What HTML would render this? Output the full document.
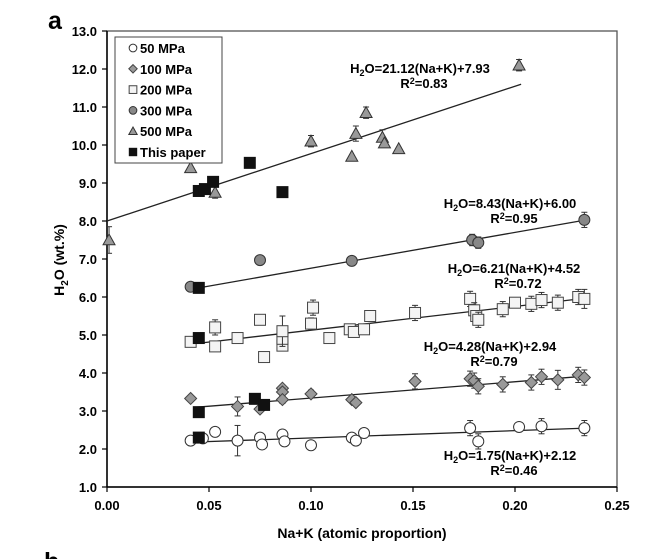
<!DOCTYPE html>
<html><head><meta charset="utf-8"><style>
body{margin:0;background:#fff;}
svg{display:block;font-family:"Liberation Sans",Arial,sans-serif;font-weight:bold;}
</style></head><body>
<svg id="chart" width="648" height="559">
<text x="48" y="29" font-size="25">a</text>
<text x="44" y="570" font-size="25">b</text>
<g id="axes"></g>
<g id="marks"></g>
</svg>
<script>
const xTicks=[0,0.05,0.10,0.15,0.20,0.25];
const xTickLabels=["0.00","0.05","0.10","0.15","0.20","0.25"];
const yTicks=[1,2,3,4,5,6,7,8,9,10,11,12,13];
const yTickLabels=["1.0","2.0","3.0","4.0","5.0","6.0","7.0","8.0","9.0","10.0","11.0","12.0","13.0"];
const p500X=[0.001,0.041,0.053,0.100,0.120,0.122,0.127,0.135,0.136,0.143,0.202];
const p500Y=[7.5,9.4,8.75,10.1,9.7,10.3,10.85,10.2,10.05,9.9,12.1];
const p500E=[0.35,0,0.15,0.15,0,0.2,0.15,0.2,0,0,0.15];
const p300X=[0.041,0.075,0.120,0.179,0.182,0.234];
const p300Y=[6.27,6.97,6.95,7.5,7.43,8.03];
const p300E=[0,0,0,0.15,0.15,0.2];
const p200X=[0.041,0.053,0.053,0.064,0.075,0.077,0.086,0.086,0.086,0.100,0.101,0.109,0.119,0.121,0.126,0.129,0.151,0.178,0.180,0.181,0.182,0.194,0.200,0.208,0.213,0.221,0.231,0.234];
const p200Y=[4.82,4.7,5.2,4.92,5.4,4.42,4.72,4.9,5.1,5.3,5.72,4.92,5.15,5.08,5.15,5.5,5.58,5.95,5.65,5.5,5.4,5.68,5.85,5.82,5.92,5.85,6.0,5.95];
const p200E=[0,0,0.2,0.1,0,0,0,0,0.4,0.15,0.2,0.1,0,0,0,0,0.2,0.2,0.2,0,0.2,0.2,0,0.2,0.2,0.2,0.2,0.25];
const p100X=[0.041,0.064,0.075,0.086,0.086,0.086,0.100,0.120,0.122,0.151,0.178,0.180,0.182,0.194,0.208,0.213,0.221,0.231,0.234];
const p100Y=[3.33,3.12,3.05,3.6,3.5,3.3,3.45,3.3,3.22,3.78,3.85,3.8,3.65,3.7,3.75,3.9,3.82,3.95,3.88];
const p100E=[0,0.25,0,0,0.1,0.1,0.1,0,0,0.2,0.2,0.2,0.2,0.2,0.2,0.2,0.25,0.2,0.2];
const p50X=[0.041,0.047,0.053,0.064,0.075,0.076,0.086,0.087,0.100,0.120,0.122,0.126,0.178,0.182,0.202,0.213,0.234];
const p50Y=[2.22,2.28,2.45,2.22,2.3,2.12,2.38,2.2,2.1,2.3,2.22,2.42,2.55,2.2,2.58,2.6,2.55];
const p50E=[0,0,0.1,0.4,0,0,0,0,0.1,0,0,0,0.2,0.2,0,0.2,0.2];
const pThisX=[0.045,0.048,0.052,0.070,0.086,0.045,0.045,0.045,0.045,0.0725,0.077];
const pThisY=[8.79,8.84,9.03,9.53,8.76,6.24,4.92,2.97,2.3,3.32,3.16];
const fitNames=["fit-500","fit-300","fit-200","fit-100","fit-50"];
const fitX0=[0.0,0.045,0.046,0.044,0.042];
const fitY0=[8.0,6.24,4.79,3.1,2.18];
const fitX1=[0.203,0.235,0.235,0.235,0.235];
const fitY1=[11.6,8.03,5.97,3.92,2.55];

const NS="http://www.w3.org/2000/svg";
const L=107,R=617,T=31,B=487;
const sx=v=>L+(v-0)/(0.25)*(R-L);
const sy=v=>B-(v-1)/(12)*(B-T);
function mk(tag,attrs,parent){const e=document.createElementNS(NS,tag);for(const k in attrs)e.setAttribute(k,attrs[k]);parent.appendChild(e);return e;}
const axes=document.getElementById('axes'),marks=document.getElementById('marks');
let fr=mk('rect',{x:L,y:T,width:R-L,height:B-T,fill:'none',stroke:'#555','stroke-width':1.3},axes);


let xa=mk('line',{x1:L,y1:B,x2:R,y2:B,stroke:'#000','stroke-width':1.5},axes);


let ya=mk('line',{x1:L,y1:T,x2:L,y2:B,stroke:'#000','stroke-width':1.5},axes);


xTicks.forEach((v,i)=>{
 mk('line',{x1:sx(v),y1:B,x2:sx(v),y2:B+5,stroke:'#000','stroke-width':1.2},axes);
 const t=mk('text',{x:sx(v),y:B+23,'font-size':13,'text-anchor':'middle'},axes);t.textContent=xTickLabels[i];
 
 
});
yTicks.forEach((v,i)=>{
 mk('line',{x1:L-5,y1:sy(v),x2:L,y2:sy(v),stroke:'#000','stroke-width':1.2},axes);
 const t=mk('text',{x:L-10,y:sy(v)+5,'font-size':13,'text-anchor':'end'},axes);t.textContent=yTickLabels[i];
 
 
});
let xt=mk('text',{x:362,y:538,'font-size':14,'text-anchor':'middle'},axes);xt.textContent='Na+K (atomic proportion)';


let yt=mk('text',{x:0,y:0,'font-size':14,'text-anchor':'middle',transform:'translate(64,260) rotate(-90)'},axes);
yt.innerHTML='H<tspan font-size="10" dy="4">2</tspan><tspan dy="-4">O (wt.%)</tspan>';


fitNames.forEach((n,i)=>{
 const l=mk('line',{x1:sx(fitX0[i]),y1:sy(fitY0[i]),x2:sx(fitX1[i]),y2:sy(fitY1[i]),stroke:'#222','stroke-width':1.3},marks);
 
 
});
function err(x,y,e){if(!e)return;const X=sx(x);mk('line',{x1:X,y1:sy(y+e),x2:X,y2:sy(y-e),stroke:'#333','stroke-width':1},marks);
 [y+e,y-e].forEach(v=>mk('line',{x1:X-3,y1:sy(v),x2:X+3,y2:sy(v),stroke:'#333','stroke-width':1},marks));}
function marker(type,X,Y,parent,s){
 s=s||1;let e;
 if(type==='c50')e=mk('circle',{cx:X,cy:Y,r:5.5*s,fill:'#fff',stroke:'#333','stroke-width':1},parent);
 if(type==='c300')e=mk('circle',{cx:X,cy:Y,r:5.5*s,fill:'#888',stroke:'#333','stroke-width':1},parent);
 if(type==='sq')e=mk('rect',{x:X-5.5*s,y:Y-5.5*s,width:11*s,height:11*s,fill:'#f4f4f4',stroke:'#444','stroke-width':1},parent);
 if(type==='dia'){const d=6*s;e=mk('polygon',{points:`${X},${Y-d} ${X+d},${Y} ${X},${Y+d} ${X-d},${Y}`,fill:'#999',stroke:'#444','stroke-width':1},parent);}
 if(type==='tri'){const d=6*s;e=mk('polygon',{points:`${X},${Y-d} ${X+d},${Y+d*0.8} ${X-d},${Y+d*0.8}`,fill:'#999',stroke:'#333','stroke-width':1},parent);}
 if(type==='bk')e=mk('rect',{x:X-6*s,y:Y-6*s,width:12*s,height:12*s,fill:'#111'},parent);
 return e;}
function series(xs,ys,es,type,name){xs.forEach((x,i)=>{if(es)err(x,ys[i],es[i]);const m=marker(type,sx(x),sy(ys[i]),marks);
 
 });}
series(p50X,p50Y,p50E,'c50','point-50mpa');
series(p100X,p100Y,p100E,'dia','point-100mpa');
series(p200X,p200Y,p200E,'sq','point-200mpa');
series(p300X,p300Y,p300E,'c300','point-300mpa');
series(p500X,p500Y,p500E,'tri','point-500mpa');
series(pThisX,pThisY,null,'bk','point-this-paper');
const eqs=[["21.12","7.93","0.83",420,73],["8.43","6.00","0.95",510,208],["6.21","4.52","0.72",514,273],["4.28","2.94","0.79",490,351],["1.75","2.12","0.46",510,460]];
eqs.forEach((q,i)=>{
 const t=mk('text',{x:q[3],y:q[4],'font-size':13,'text-anchor':'middle'},marks);
 t.innerHTML=`H<tspan font-size="9" dy="3">2</tspan><tspan dy="-3">O=${q[0]}(Na+K)+${q[1]}</tspan>`;
 
 
 const r=mk('text',{x:q[3]+4,y:q[4]+15,'font-size':13,'text-anchor':'middle'},marks);
 r.innerHTML=`R<tspan font-size="9" dy="-4">2</tspan><tspan dy="4">=${q[2]}</tspan>`;
 
 
});
const lg=mk('g',{},marks);


mk('rect',{x:115,y:37,width:107,height:126,fill:'#fff',stroke:'#444','stroke-width':1},lg);
const legTypes=['c50','dia','sq','c300','tri','bk'];
const legNames=['50 MPa','100 MPa','200 MPa','300 MPa','500 MPa','This paper'];
legNames.forEach((n,i)=>{const y=48+i*20.8;
 const g=mk('g',{},lg);
 
 
 marker(legTypes[i],133,y,g,0.7);
 const t=mk('text',{x:140,y:y+5,'font-size':13},g);t.textContent=n;});
</script>
</body></html>
